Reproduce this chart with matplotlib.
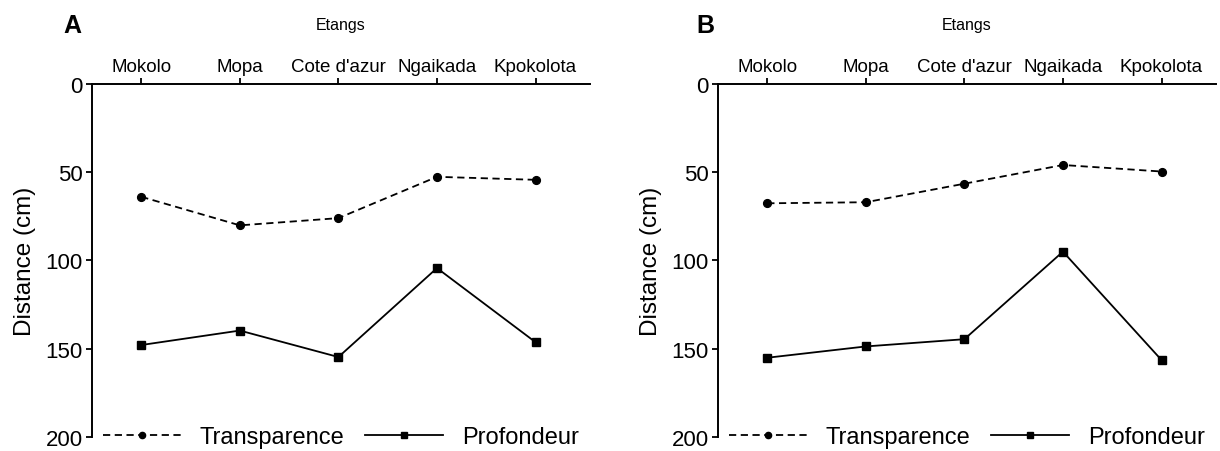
import matplotlib
matplotlib.use("Agg")
import matplotlib.pyplot as plt

plt.rcParams['font.family'] = ['Liberation Sans', 'DejaVu Sans']

etangs = ["Mokolo", "Mopa", "Cote d'azur", "Ngaikada", "Kpokolota"]

transp_A = [63.9, 80.1, 76.0, 52.6, 54.3]
prof_A = [147.9, 139.7, 154.7, 104.3, 146.3]

transp_B = [67.6, 67.0, 56.5, 45.9, 49.6]
prof_B = [155.1, 148.7, 144.6, 95.0, 156.4]

panels = [("A", transp_A, prof_A), ("B", transp_B, prof_B)]

fig = plt.figure(figsize=(12.2, 4.52), dpi=100)
lefts = [0.0754, 0.5885]
letter_x = [0.052, 0.571]

for (letter, tr, pr), left, lx in zip(panels, lefts, letter_x):
    ax = fig.add_axes([left, 0.031, 0.408, 0.781])
    x = range(len(etangs))
    l1, = ax.plot(x, tr, color='black', ls=(0, (4, 2.5)), lw=1.3,
                  marker='o', ms=5.6, label='Transparence')
    l2, = ax.plot(x, pr, color='black', ls='-', lw=1.3,
                  marker='s', ms=6, label='Profondeur')
    ax.set_xlim(-0.5, 4.55)
    ax.set_ylim(200, 0)
    ax.set_yticks([0, 50, 100, 150, 200])
    ax.tick_params(axis='y', labelsize=16, length=4.5, width=1.3, pad=2)
    ax.xaxis.tick_top()
    ax.xaxis.set_label_position('top')
    ax.set_xticks(list(x))
    ax.set_xticklabels(etangs, fontsize=13.5)
    ax.tick_params(axis='x', length=4, width=1.3, pad=2.5)
    ax.set_xlabel("Etangs", fontsize=11.5, labelpad=21)
    ax.set_ylabel("Distance (cm)", fontsize=17.5, labelpad=7)
    for s in ['right', 'bottom']:
        ax.spines[s].set_visible(False)
    for s in ['left', 'top']:
        ax.spines[s].set_linewidth(1.4)
    ax.legend(handles=[l1, l2], loc='center', bbox_to_anchor=(0.5, 0.0),
              ncol=2, frameon=False, fontsize=17, handlelength=3.3,
              columnspacing=0.9, handletextpad=0.8, markerscale=0.8)
    fig.text(lx, 0.927, letter, fontsize=18, fontweight='bold')

fig.savefig("out.png", dpi=100)
